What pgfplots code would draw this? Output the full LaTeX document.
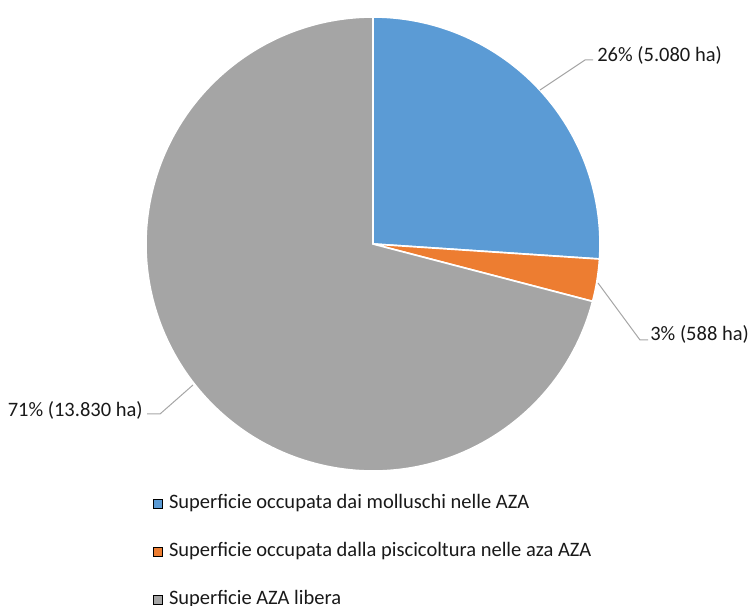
\documentclass[border=0pt]{standalone}
\usepackage{fontspec}
\setmainfont{Carlito}
\usepackage{pgfplots}
\pgfplotsset{compat=1.18}
\usepackage{pgfplotstable}

\definecolor{molluschi}{HTML}{5B9BD5}
\definecolor{pesci}{HTML}{ED7D31}
\definecolor{libera}{HTML}{A5A5A5}
\definecolor{leader}{HTML}{A6A6A6}

% superficie in ettari
\pgfplotstableread{
area value
1 5080
2 588
3 13830
}\azadata

\pgfkeys{/pgf/number format/assume math mode=true}
\newcommand{\ha}[1]{\pgfmathprintnumber[fixed,precision=0,1000 sep={.}]{#1}}

\begin{document}
\begin{tikzpicture}[font=\fontsize{12.3}{15}\selectfont]
\pgfplotstablegetelem{0}{value}\of\azadata \edef\vA{\pgfplotsretval}
\pgfplotstablegetelem{1}{value}\of\azadata \edef\vB{\pgfplotsretval}
\pgfplotstablegetelem{2}{value}\of\azadata \edef\vC{\pgfplotsretval}
\edef\vT{\fpeval{\vA+\vB+\vC}}
\edef\aA{\fpeval{90-360*\vA/\vT}}
\edef\aB{\fpeval{\aA-360*\vB/\vT}}
\edef\pA{\fpeval{round(100*\vA/\vT)}}
\edef\pB{\fpeval{round(100*\vB/\vT)}}
\edef\pC{\fpeval{round(100*\vC/\vT)}}
\begin{axis}[
    x=1pt, y=1pt,
    xmin=0, xmax=450, ymin=0, ymax=363.6,
    hide axis,
    clip=false,
    legend image code/.code={\fill[#1] (0pt,-2.7pt) rectangle (5.4pt,2.7pt);},
    legend cell align=left,
    legend style={
        at={(axis cs:91.8,67.6)}, anchor=north west,
        draw=none, fill=none, inner sep=0pt,
        row sep=16.8pt,
        font=\fontsize{12.3}{15}\selectfont,
        nodes={inner sep=0pt, text height=9pt, text depth=3pt, text=black!90},
        /tikz/every odd column/.append style={column sep=3.6pt},
    },
]
% spicchi
\filldraw[molluschi, draw=white, line width=1pt] (axis cs:223.8,217.2) -- ++(90:136.2pt)
    arc[start angle=90, end angle=\aA, radius=136.2pt] -- cycle;
\filldraw[pesci, draw=white, line width=1pt] (axis cs:223.8,217.2) -- ++(\aA:136.2pt)
    arc[start angle=\aA, end angle=\aB, radius=136.2pt] -- cycle;
\filldraw[libera, draw=white, line width=1pt] (axis cs:223.8,217.2) -- ++(\aB:136.2pt)
    arc[start angle=\aB, end angle=-270, radius=136.2pt] -- cycle;

% etichette
\draw[leader, line width=0.6pt] (axis cs:324,309.6) -- (axis cs:351,327.6) -- (axis cs:355.8,327.6);
\node[anchor=base west, inner sep=0pt, text=black!90] at (axis cs:358.2,326.4) {\pA\% (\ha{\vA} ha)};
\draw[leader, line width=0.6pt] (axis cs:358.8,193.8) -- (axis cs:384,159.6) -- (axis cs:388.8,159.6);
\node[anchor=base west, inner sep=0pt, text=black!90] at (axis cs:390,159) {\pB\% (\ha{\vB} ha)};
\draw[leader, line width=0.6pt] (axis cs:115.8,132.6) -- (axis cs:96,115.2) -- (axis cs:88.2,115.2);
\node[anchor=base east, inner sep=0pt, text=black!90] at (axis cs:85.8,113.4) {\pC\% (\ha{\vC} ha)};

\addlegendimage{fill=molluschi}
\addlegendentry{Superficie occupata dai molluschi nelle AZA}
\addlegendimage{fill=pesci}
\addlegendentry{Superficie occupata dalla piscicoltura nelle aza AZA}
\addlegendimage{fill=libera}
\addlegendentry{Superficie AZA libera}
\end{axis}
\pgfresetboundingbox
\path (current axis.south west) rectangle (current axis.north east);
\end{tikzpicture}
\end{document}
